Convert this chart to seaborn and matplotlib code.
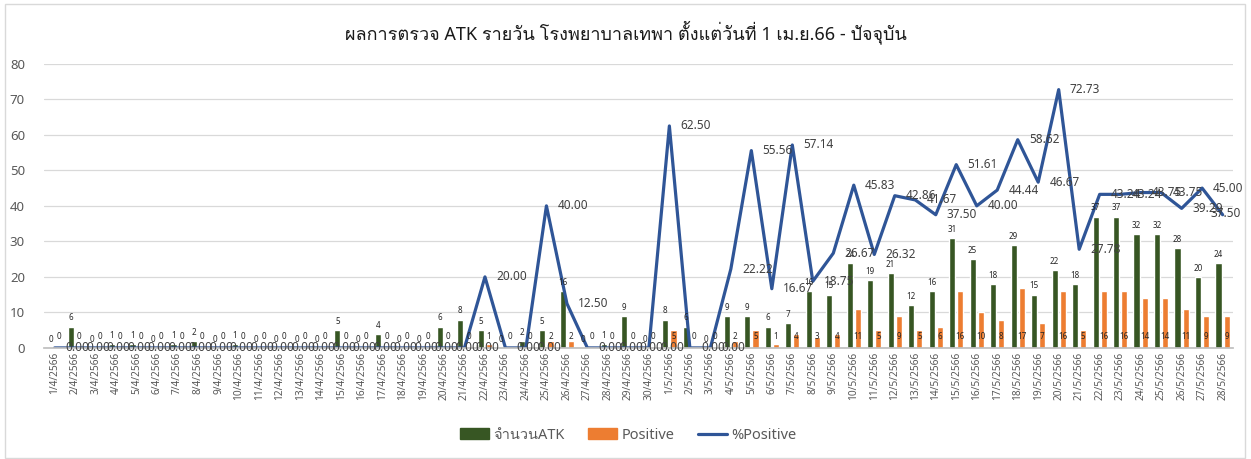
import matplotlib
matplotlib.use('Agg')
import matplotlib.pyplot as plt
import seaborn as sns
import pandas as pd
from matplotlib import font_manager, ft2font
from matplotlib.lines import Line2D
from matplotlib.patches import Patch, Rectangle


# วันที่ 1/4/2566 - 28/5/2566
dates = [f'{d}/4/2566' for d in range(1, 31)] + [f'{d}/5/2566' for d in range(1, 29)]

atk = [0, 6, 0, 1, 1, 0, 1, 2, 0, 1,
       0, 0, 0, 0, 5, 0, 4, 0, 0, 6,
       8, 5, 0, 2, 5, 16, 0, 1, 9, 0,
       8, 6, 0, 9, 9, 6, 7, 16, 15, 24,
       19, 21, 12, 16, 31, 25, 18, 29, 15, 22,
       18, 37, 37, 32, 32, 28, 20, 24]

positive = [0, 0, 0, 0, 0, 0, 0, 0, 0, 0,
            0, 0, 0, 0, 0, 0, 0, 0, 0, 0,
            0, 1, 0, 0, 2, 2, 0, 0, 0, 0,
            5, 0, 0, 2, 5, 1, 4, 3, 4, 11,
            5, 9, 5, 6, 16, 10, 8, 17, 7, 16,
            5, 16, 16, 14, 14, 11, 9, 9]

pct_positive = [0, 0, 0, 0, 0, 0, 0, 0, 0, 0,
                0, 0, 0, 0, 0, 0, 0, 0, 0, 0,
                0, 20.00, 0, 0, 40.00, 12.50, 0, 0, 0, 0,
                62.50, 0, 0, 22.22, 55.56, 16.67, 57.14, 18.75, 26.67, 45.83,
                26.32, 42.86, 41.67, 37.50, 51.61, 40.00, 44.44, 58.62, 46.67, 72.73,
                27.78, 43.24, 43.24, 43.75, 43.75, 39.29, 45.00, 37.50]

series_names = ['จำนวนATK', 'Positive', '%Positive']
title = 'ผลการตรวจ ATK รายวัน โรงพยาบาลเทพา ตั้งแต่วันที่ 1 เม.ย.66 - ปัจจุบัน'

green = '#375623'
orange = '#ED7D31'
blue = '#2F5597'

sns.set_theme(style='white')


# หาฟอนต์ที่มีอักษรไทย
def find_thai_font():
    for f in font_manager.fontManager.ttflist:
        try:
            if 0x0E1C in ft2font.FT2Font(f.fname).get_charmap():
                return f.name
        except Exception:
            continue
    return None


thai = find_thai_font()
plt.rcParams['font.family'] = ['Noto Sans'] + ([thai] if thai else []) + ['DejaVu Sans']

df = pd.DataFrame({
    'date': dates * 2,
    'series': [series_names[0]] * len(dates) + [series_names[1]] * len(dates),
    'value': atk + positive,
})

fig = plt.figure(figsize=(12.51, 4.59), dpi=100)
ax = fig.add_axes([0.0355, 0.242, 0.95, 0.619])

sns.barplot(data=df, x='date', y='value', hue='series', palette=[green, orange],
            width=0.8, gap=0.25, saturation=1, legend=False, ax=ax)
sns.lineplot(x=list(range(len(dates))), y=pct_positive, color=blue, lw=2.3, ax=ax)

# labels
green_bars, orange_bars = ax.containers[0], ax.containers[1]
ax.bar_label(green_bars, labels=[str(v) for v in atk], padding=3, fontsize=5.8, color='#262626')
for bar, v in zip(orange_bars, positive):
    ax.annotate(str(v), (bar.get_x() + bar.get_width() / 2, 0), xytext=(0, 8.5),
                textcoords='offset points', ha='center', va='center',
                fontsize=5.8, color='#262626')
last = len(pct_positive) - 1
for i, v in enumerate(pct_positive):
    if i == last:
        # ป้ายสุดท้ายถูกดันเข้ามาในกรอบ
        ax.annotate(f'{v:.2f}', (i, v), xytext=(2, 1), textcoords='offset points',
                    ha='center', va='center', fontsize=8.5, color='#404040')
    else:
        ax.annotate(f'{v:.2f}', (i, v), xytext=(8, 0), textcoords='offset points',
                    ha='left', va='center', fontsize=8.5, color='#404040')

ax.set_xlim(-0.5, len(dates) - 0.5)
ax.set_ylim(0, 80)
ax.set_yticks(range(0, 81, 10))
ax.set_xlabel('')
ax.set_ylabel('')
ax.yaxis.grid(True, color='#D9D9D9', lw=0.9)
ax.set_axisbelow(True)
for s in ['top', 'right', 'left']:
    ax.spines[s].set_visible(False)
ax.spines['bottom'].set_color('#BFBFBF')
ax.tick_params(axis='y', length=0, labelsize=9.5, labelcolor='#595959', pad=14)
ax.tick_params(axis='x', length=0, labelsize=7.3, labelcolor='#595959', rotation=90, pad=3)
ax.set_xticks([i - 0.5 for i in range(len(dates) + 1)], minor=True)
ax.tick_params(axis='x', which='minor', length=4, color='#BFBFBF')

fig.text(0.5, 0.93, title, ha='center', va='center', fontsize=13, color='#1a1a1a')

handles = [Patch(color=green), Patch(color=orange), Line2D([], [], color=blue, lw=2.3)]
fig.legend(handles, series_names, loc='center', bbox_to_anchor=(0.502, 0.052), ncol=3,
           frameon=False, fontsize=10.5, handlelength=2.0, handletextpad=0.3,
           columnspacing=1.6, labelcolor='#595959')

fig.patches.append(Rectangle((0.004, 0.002), 0.991, 0.99, transform=fig.transFigure,
                             fill=False, edgecolor='#D9D9D9', lw=1))

fig.savefig('out.png', dpi=100)
